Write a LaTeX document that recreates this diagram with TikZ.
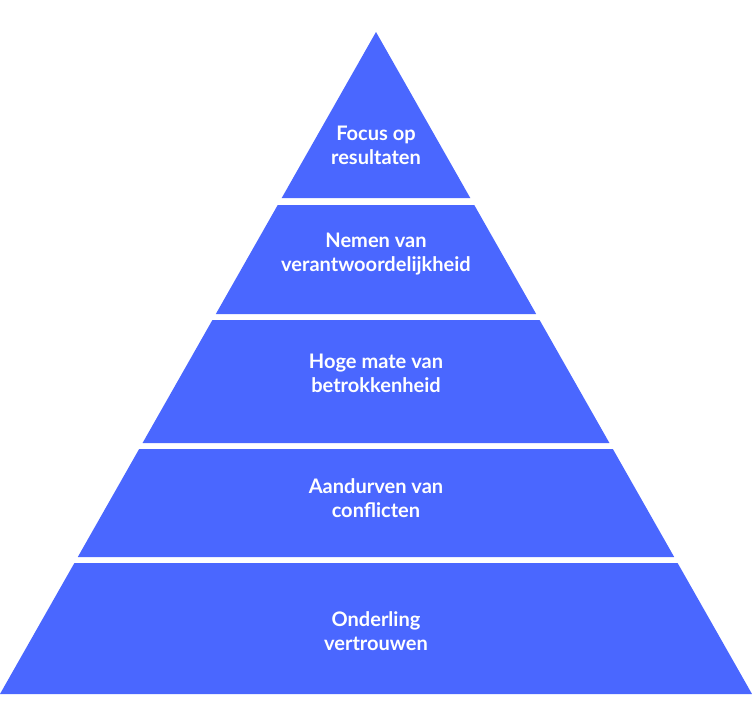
\documentclass[tikz,border=0pt]{standalone}
\usepackage{fontspec}
\setmainfont{Lato}
\usetikzlibrary{positioning}
\definecolor{pyrblue}{HTML}{4A67FF}

\begin{document}
\begin{tikzpicture}[x=0.02cm,y=-0.02cm,
    layer/.style={fill=pyrblue},
    txt/.style={text=white,align=center,
      font=\bfseries\fontsize{11.4}{13.7}\selectfont}]
  \useasboundingbox (0,0) rectangle (752,710);
  % top of the pyramid
  \coordinate (apex) at (376,32);
  \fill[layer] (apex) -- ({376-0.568*166},198) -- ({376+0.568*166},198) -- cycle;
  % the other layers, top/bottom in pixels
  \foreach \t/\b in {205/314,320/443,449/557,563/694} {
    \fill[layer] ({376-0.568*(\t-32)},\t) -- ({376+0.568*(\t-32)},\t)
      -- ({376+0.568*(\b-32)},\b) -- ({376-0.568*(\b-32)},\b) -- cycle;
  }
  \node[txt] (focus) at (376,145) {Focus op\\resultaten};
  \node[txt] (nemen) at (376,254) {Nemen van\\verantwoordelijkheid};
  \node[txt] (hoge) at (376,373) {Hoge mate van\\betrokkenheid};
  \node[txt] (aandurven) at (376,498) {Aandurven van\\conflicten};
  \node[txt] (onderling) at (376,631) {Onderling\\vertrouwen};
\end{tikzpicture}
\end{document}
